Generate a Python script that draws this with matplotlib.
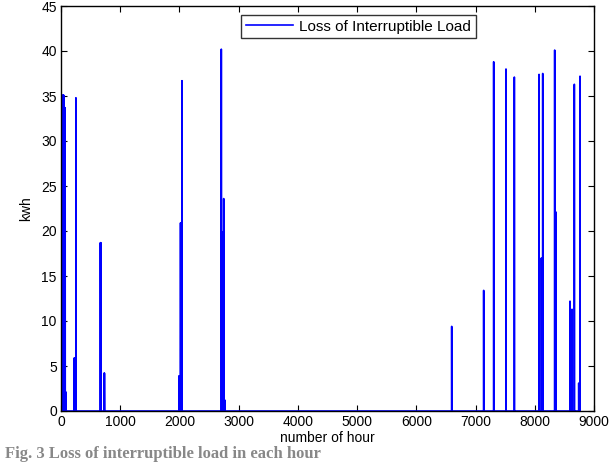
import numpy as np
import matplotlib
matplotlib.use("Agg")
import matplotlib.pyplot as plt

plt.rcParams['font.family'] = ['Liberation Sans', 'DejaVu Sans']

# Event hours and lost interruptible load (kWh)
event_hours = [30, 38, 45, 60, 70, 85,
               225, 232, 252,
               665, 672, 728, 734,
               1995, 2000, 2018, 2024, 2043,
               2707, 2725, 2732, 2747, 2769,
               6597, 7137, 7306, 7514, 7655,
               8072, 8111, 8134, 8336, 8359,
               8595, 8629, 8668, 8742, 8764]
event_values = [35.1, 35.1, 35.1, 33.7, 33.7, 2.1,
                5.9, 5.9, 34.8,
                18.7, 18.7, 4.2, 4.2,
                3.9, 3.9, 20.9, 20.9, 36.7,
                40.2, 19.9, 19.9, 23.6, 1.2,
                9.4, 13.4, 38.8, 38.0, 37.1,
                37.4, 17.0, 37.5, 40.1, 22.1,
                12.2, 11.3, 36.3, 3.1, 37.2]
n_hours = 8766

xticks = [0, 1000, 2000, 3000, 4000, 5000, 6000, 7000, 8000, 9000]
yticks = [0, 5, 10, 15, 20, 25, 30, 35, 40, 45]

hours = np.arange(1, n_hours + 1)
load = np.zeros(n_hours)
for h, v in zip(event_hours, event_values):
    load[h - 1] = v

fig = plt.figure(figsize=(6.13, 4.62), dpi=100)
ax = fig.add_axes([61/613, 1 - 411/462, (594-61)/613, (411-6)/462])
ax.plot(hours, load, color=(0, 0, 1), lw=1.2, label='Loss of Interruptible Load')
ax.set_xlim(0, 9000)
ax.set_ylim(0, 45)
ax.set_xticks(xticks)
ax.set_yticks(yticks)
ax.tick_params(direction='in', top=True, right=True, labelsize=10, length=4, pad=3)
for s in ax.spines.values():
    s.set_linewidth(1.0)
ax.set_xlabel('number of hour', fontsize=10, labelpad=1)
ax.set_ylabel('kwh', fontsize=10, labelpad=6)

leg = ax.legend(loc='upper left', bbox_to_anchor=((241-61)/533, (411-15)/405),
                frameon=True, fancybox=False, fontsize=11, handlelength=3.1,
                borderpad=0.3, handletextpad=0.4, borderaxespad=0)
leg.get_frame().set_edgecolor('black')
leg.get_frame().set_linewidth(1.0)

fig.text(5/613, 1 - 458/462, 'Fig. 3 Loss of interruptible load in each hour',
         fontsize=12, fontweight='bold', color='#888888',
         family=['Liberation Serif', 'DejaVu Serif'], va='baseline')

fig.savefig('out.png', dpi=100)
